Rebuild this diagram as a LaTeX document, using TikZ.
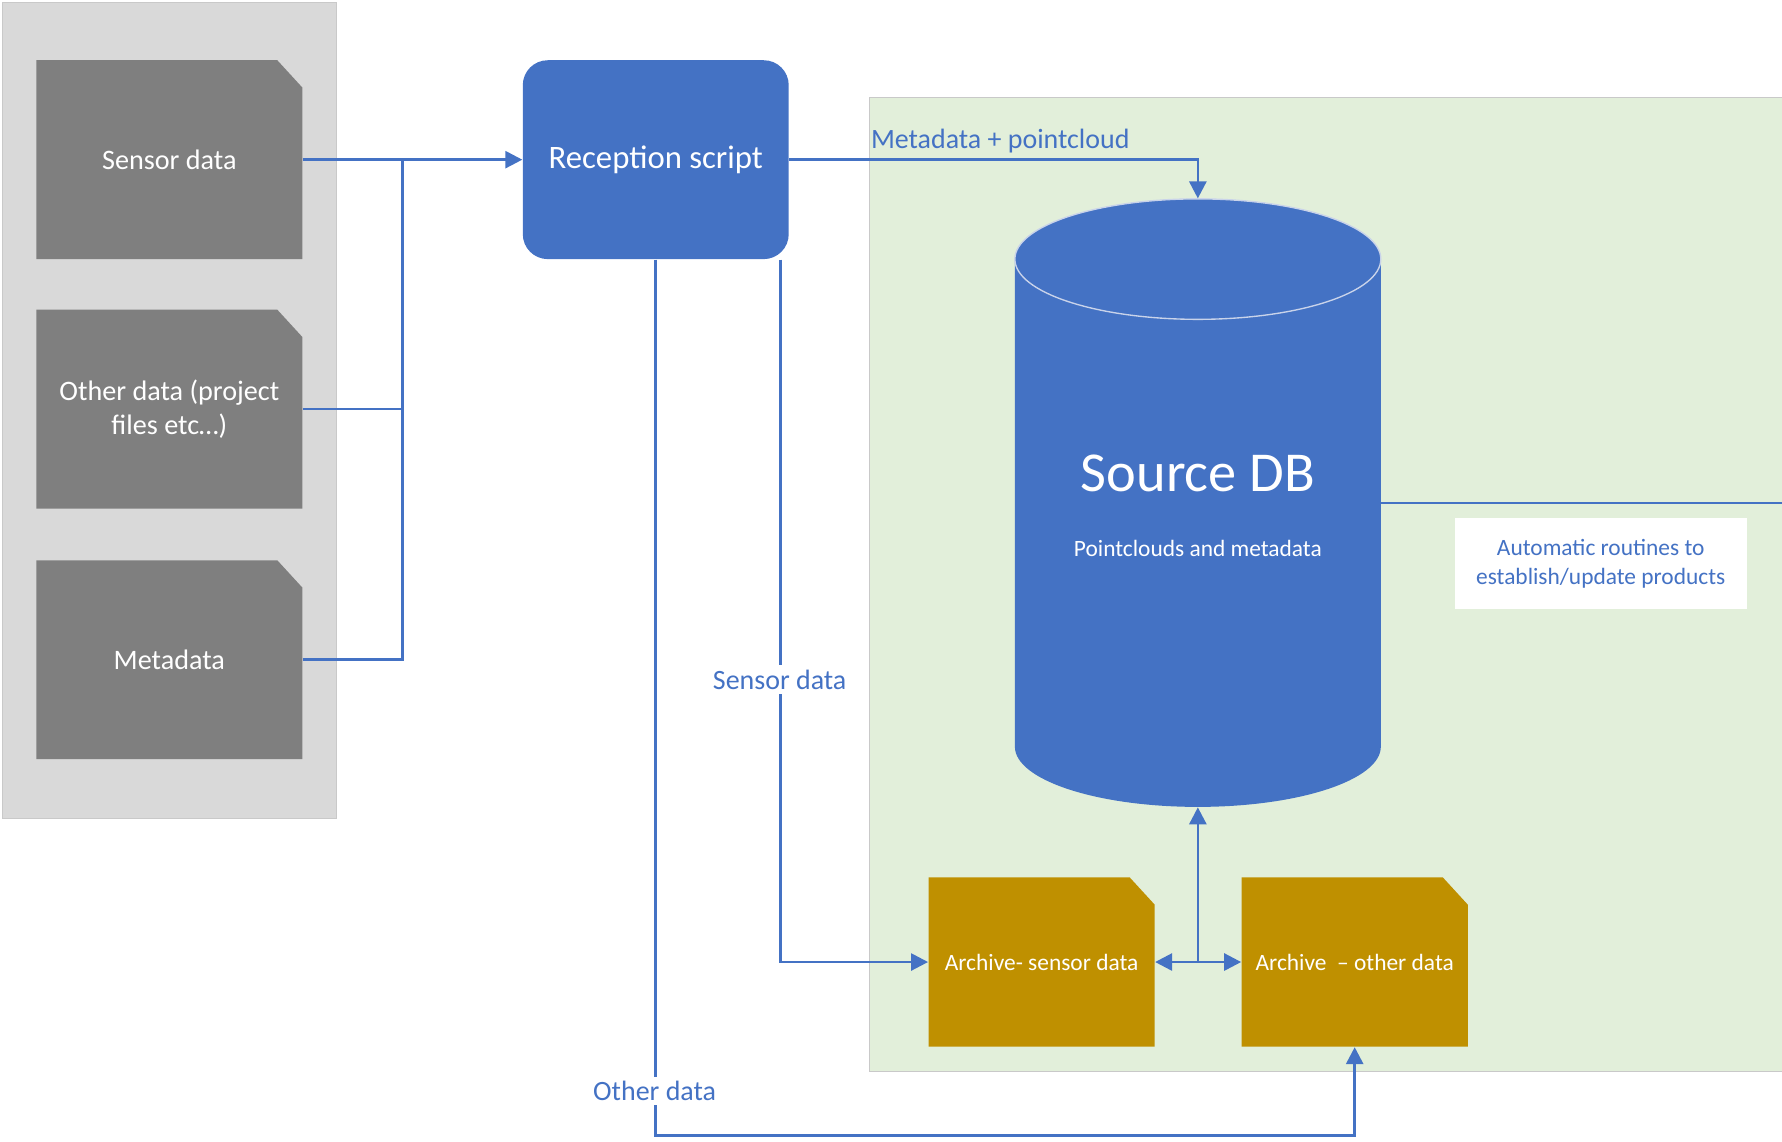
\documentclass[tikz,border=0pt]{standalone}
\usepackage{fontspec}
\setmainfont{Carlito}
\usetikzlibrary{arrows.meta}

\definecolor{accent}{HTML}{4472C4}
\definecolor{srcgray}{HTML}{7F7F7F}
\definecolor{panelgray}{HTML}{D9D9D9}
\definecolor{panelgreen}{HTML}{E2EFDA}
\definecolor{panelline}{HTML}{C9C9C9}
\definecolor{archgold}{HTML}{BF9000}
\definecolor{rimline}{HTML}{C9D3EA}

\tikzset{
  % rectangle with its top-right corner clipped off
  docbox/.style={rectangle, inner sep=0pt, text=white, align=center,
    minimum width=117pt, minimum height=87.5pt,
    font=\fontsize{12.4}{15}\selectfont,
    path picture={\fill[#1]
      (path picture bounding box.south west) --
      (path picture bounding box.north west) --
      ([xshift=-11pt]path picture bounding box.north east) --
      ([yshift=-12pt]path picture bounding box.north east) --
      (path picture bounding box.south east) -- cycle;}},
  archbox/.style={docbox=archgold, minimum width=99.5pt, minimum height=74.5pt,
    font=\fontsize{10.3}{12.5}\selectfont},
  procbox/.style={rectangle, rounded corners=11pt, fill=accent, text=white,
    minimum width=117pt, minimum height=87.5pt,
    font=\fontsize{14.4}{17}\selectfont},
  flow/.style={draw=accent, line width=1.2pt},
  arr/.style={flow, -{Triangle[length=7.5pt,width=7.5pt]}},
  flowlabel/.style={text=accent, font=\fontsize{12.3}{15}\selectfont, inner sep=2pt},
  notebox/.style={fill=white, text=accent, align=center, inner sep=0pt,
    minimum width=128.5pt, minimum height=40pt,
    font=\fontsize{10.3}{12.5}\selectfont}
}

\begin{document}
\begin{tikzpicture}[x=0.5pt,y=-0.5pt]
\useasboundingbox (0,0) rectangle (1568,1004);

% panels
\filldraw[fill=panelgray, draw=panelline, line width=0.5pt] (2,2) rectangle (296,720);
\fill[panelgreen] (765,86) rectangle (1568,943);
\draw[panelline, line width=0.5pt] (1568,86) -- (765,86) -- (765,943) -- (1568,943);

% sources
\node[docbox=srcgray] (sens) at (149,140.5) {Sensor data};
\node[docbox=srcgray] (other) at (149,360) {Other data (project\\files etc…)};
\node[docbox=srcgray] (meta) at (149,580.5) {Metadata};

% reception
\node[procbox] (rec) at (577,140.5) {Reception script};

% source database cylinder
\node[rectangle, minimum width=161pt, minimum height=267.5pt, inner sep=0pt] (db) at (1054,442.5) {};
\fill[accent] (893,228) -- (893,657)
  arc[start angle=180, end angle=360, x radius=80.5pt, y radius=26.5pt]
  -- (1215,228)
  arc[start angle=0, end angle=180, x radius=80.5pt, y radius=26.5pt] -- cycle;
\draw[rimline, line width=0.6pt] (1054,228) ellipse[x radius=80.5pt, y radius=26.5pt];
\node[text=white, font=\fontsize{24.8}{28}\selectfont] (dbtitle) at (1054,417) {Source DB};
\node[text=white, font=\fontsize{10.3}{12.5}\selectfont] (dbsub) at (1054,483) {Pointclouds and metadata};

% archives
\node[archbox] (arcs) at (916.5,846.5) {Archive- sensor data};
\node[archbox] (arco) at (1192,846.5) {Archive\ \ – other data};

% products note
\node[notebox] (auto) at (1408.5,496) {Automatic routines to\\establish/update products};

% connectors: sources into reception
\coordinate (join) at (354,140.5);
\draw[arr] (sens.east) -- (rec.west);
\draw[flow] (other.east) -| (join);
\draw[flow] (meta.east) -| (join);

% reception to database
\draw[arr] (rec.east) -| (db.north);
\node[flowlabel, anchor=west] (lblmp) at (762,124) {Metadata + pointcloud};

% reception to archives
\coordinate (sensout) at ([xshift=55pt]rec.south);
\draw[arr] (sensout) |- (arcs.west);
\node[flowlabel, fill=white] (lblsens) at (686,598) {Sensor data};
\coordinate (otherturn) at (577,999);
\draw[arr] (rec.south) -- (otherturn) -| (arco.south);
\node[flowlabel, fill=white] (lblother) at (576,960) {Other data};

% archives to database
\coordinate (hub) at (1054,846.5);
\draw[arr] (hub) -- (arcs.east);
\draw[arr] (hub) -- (arco.west);
\draw[arr] (hub) -- (db.south);

% database onwards
\coordinate (dbout) at (1568,442.5);
\draw[flow] (db.east) -- (dbout);
\end{tikzpicture}
\end{document}
